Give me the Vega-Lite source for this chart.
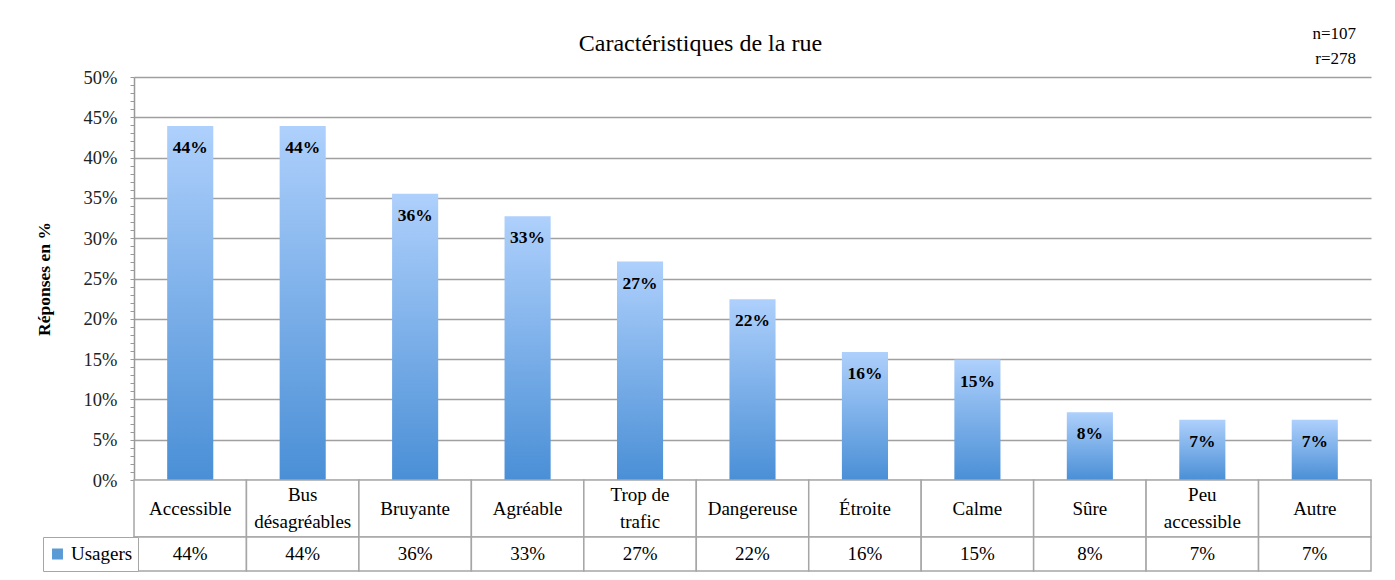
{
  "$schema": "https://vega.github.io/schema/vega-lite/v6.json",
  "padding": {"left": 35, "top": 25, "right": 20, "bottom": 5},
  "background": "white",
  "config": {"font": "Liberation Serif", "view": {"stroke": null}},
  "title": {"text": "Caractéristiques de la rue", "fontSize": 24, "fontWeight": "normal", "font": "Liberation Serif", "color": "black", "anchor": "middle", "dx": -3, "dy": 35},
  "datasets": {
    "rue": [
      {"caracteristique": "Accessible", "libelle": "Accessible", "part": 0.4393},
      {"caracteristique": "Bus désagréables", "libelle": "Bus\ndésagréables", "part": 0.4393},
      {"caracteristique": "Bruyante", "libelle": "Bruyante", "part": 0.3551},
      {"caracteristique": "Agréable", "libelle": "Agréable", "part": 0.3271},
      {"caracteristique": "Trop de trafic", "libelle": "Trop de\ntrafic", "part": 0.2710},
      {"caracteristique": "Dangereuse", "libelle": "Dangereuse", "part": 0.2243},
      {"caracteristique": "Étroite", "libelle": "Étroite", "part": 0.1589},
      {"caracteristique": "Calme", "libelle": "Calme", "part": 0.1495},
      {"caracteristique": "Sûre", "libelle": "Sûre", "part": 0.0841},
      {"caracteristique": "Peu accessible", "libelle": "Peu\naccessible", "part": 0.0748},
      {"caracteristique": "Autre", "libelle": "Autre", "part": 0.0748}
    ]
  },
  "data": {"name": "rue"},
  "bounds": "flush",
  "spacing": 0,
  "resolve": {"legend": {"color": "independent"}, "scale": {"x": "independent", "color": "independent"}},
  "vconcat": [
    {
      "width": 1237,
      "height": 403,
      "title": {"text": ["n=107", "r=278"], "anchor": "end", "fontSize": 17, "fontWeight": "normal", "color": "black", "lineHeight": 25, "dx": -15, "offset": 0},
      "layer": [
        {
          "mark": {"type": "bar", "color": {"gradient": "linear", "x1": 0, "y1": 0, "x2": 0, "y2": 1, "stops": [{"offset": 0, "color": "#aed0fc"}, {"offset": 1, "color": "#4a8fd6"}]}},
          "encoding": {
            "x": {"field": "caracteristique", "type": "nominal", "sort": null, "axis": null, "scale": {"paddingInner": 0.59, "paddingOuter": 0.295}},
            "y": {
              "field": "part", "type": "quantitative", "scale": {"domain": [0, 0.5]},
              "axis": {
                "title": "Réponses en %", "titleFontSize": 17.5, "titleFontWeight": "bold", "titleColor": "black", "titlePadding": 30,
                "tickCount": 50, "format": ".0%",
                "labelExpr": "abs(datum.value*20 - round(datum.value*20)) < 0.001 ? datum.label : ''",
                "labelOverlap": false, "labelFontSize": 18.5, "labelColor": "#222", "labelPadding": 13,
                "tickSize": 4, "tickColor": "#999", "domainColor": "#999", "domainWidth": 1.5,
                "gridColor": "#a0a0a0", "gridWidth": 1.5,
                "gridOpacity": {"condition": {"test": "abs(datum.value*20 - round(datum.value*20)) < 0.001", "value": 1}, "value": 0}
              }
            }
          }
        },
        {
          "mark": {"type": "text", "baseline": "middle", "dy": 22, "fontSize": 17.5, "fontWeight": "bold", "color": "black"},
          "encoding": {
            "x": {"field": "caracteristique", "type": "nominal", "sort": null},
            "y": {"field": "part", "type": "quantitative"},
            "text": {"field": "part", "type": "quantitative", "format": ".0%"}
          }
        }
      ]
    },
    {
      "width": 1237,
      "height": 57,
      "layer": [
        {
          "mark": {"type": "bar", "fill": "white", "stroke": "#a6a6a6", "strokeWidth": 1.5},
          "encoding": {"x": {"field": "caracteristique", "type": "nominal", "sort": null, "axis": null, "scale": {"paddingInner": 0, "paddingOuter": 0}}}
        },
        {
          "transform": [{"filter": "indexof(datum.libelle, '\\n') < 0"}],
          "mark": {"type": "text", "fontSize": 19, "baseline": "middle", "color": "black"},
          "encoding": {
            "x": {"field": "caracteristique", "type": "nominal", "sort": null},
            "text": {"field": "libelle", "type": "nominal"}
          }
        },
        {
          "transform": [{"filter": "indexof(datum.libelle, '\\n') >= 0"}],
          "mark": {"type": "text", "fontSize": 19, "lineBreak": "\n", "lineHeight": 27, "baseline": "middle", "dy": -13.5, "color": "black"},
          "encoding": {
            "x": {"field": "caracteristique", "type": "nominal", "sort": null},
            "text": {"field": "libelle", "type": "nominal"}
          }
        }
      ]
    },
    {
      "width": 1237,
      "height": 34,
      "layer": [
        {
          "mark": {"type": "bar", "fill": "white", "stroke": "#a6a6a6", "strokeWidth": 1.5},
          "encoding": {"x": {"field": "caracteristique", "type": "nominal", "sort": null, "axis": null, "scale": {"paddingInner": 0, "paddingOuter": 0}}}
        },
        {
          "mark": {"type": "text", "fontSize": 19, "baseline": "middle", "color": "black"},
          "encoding": {
            "x": {"field": "caracteristique", "type": "nominal", "sort": null},
            "text": {"field": "part", "type": "quantitative", "format": ".0%"}
          }
        },
        {
          "mark": {"type": "square", "opacity": 0},
          "encoding": {
            "x": {"field": "caracteristique", "type": "nominal", "sort": null},
            "color": {
              "datum": "Usagers",
              "scale": {"range": ["#5b9bd5"]},
              "legend": {"title": null, "orient": "left", "offset": -4, "symbolType": "square", "symbolSize": 120, "symbolOpacity": 1, "symbolStrokeWidth": 0, "labelFontSize": 19, "labelFont": "Liberation Serif", "labelColor": "black", "labelOffset": 4, "strokeColor": "#a6a6a6", "fillColor": "white", "padding": 5, "clipHeight": 24}
            }
          }
        }
      ]
    }
  ]
}
